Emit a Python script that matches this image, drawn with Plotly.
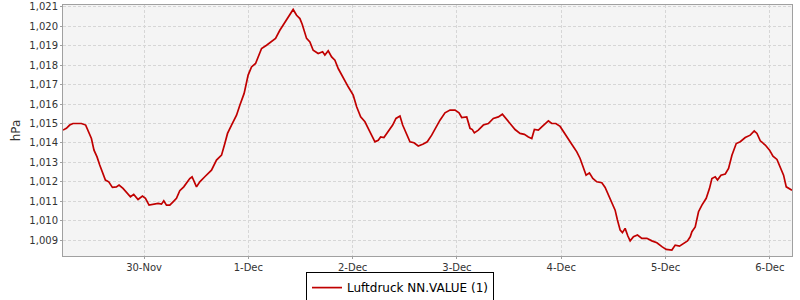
import plotly.graph_objects as go
import pandas as pd

series_name = "Luftdruck NN.VALUE (1)"
start = pd.Timestamp("2023-11-29 00:00")

# hours since 29-Nov 00:00
hours = [5.35, 6.13, 6.89, 7.65, 8.80, 9.58, 10.57, 11.33, 11.89, 12.48, 13.18, 13.80, 14.42, 15.11,
         15.87, 16.72, 17.64, 18.24, 19.16, 19.95, 20.87, 21.63, 22.62, 23.63, 24.32, 25.15, 26.07,
         27.22, 28.01, 28.54, 29.16, 29.92, 30.68, 31.46, 32.22, 33.14, 34.52, 35.05, 36.07, 36.83,
         37.98, 39.52, 40.67, 41.83, 42.59, 43.21, 44.13, 45.28, 46.04, 47.03, 47.95, 48.73, 49.66,
         51.04, 52.19, 53.34, 54.26, 55.25, 56.40, 57.55, 58.31, 59.10, 59.86, 60.39, 61.40, 62.16,
         62.92, 64.07, 65.09, 65.61, 66.38, 67.16, 67.92, 68.68, 69.83, 70.98, 72.13, 72.92, 73.84,
         74.83, 75.98, 77.13, 77.89, 78.44, 79.20, 80.19, 81.21, 81.97, 82.89, 83.51, 84.27, 85.19,
         86.11, 87.10, 88.25, 89.17, 90.19, 91.18, 92.10, 93.25, 94.40, 95.56, 96.48, 97.10, 98.25,
         99.01, 99.54, 100.00, 100.92, 102.07, 103.22, 104.37, 105.53, 106.45, 107.23, 108.22,
         109.37, 110.52, 111.51, 112.44, 113.22, 113.82, 114.74, 115.52, 116.28, 117.04, 117.82,
         118.75, 119.74, 120.50, 121.28, 122.04, 122.80, 123.58, 124.34, 124.96, 125.72, 126.48,
         127.27, 128.19, 129.34, 130.10, 130.86, 131.64, 132.40, 132.93, 133.56, 134.08, 134.70,
         135.33, 135.86, 136.62, 137.54, 138.55, 139.70, 140.85, 142.01, 143.16, 144.15, 145.46,
         146.22, 147.21, 148.13, 149.05, 149.68, 150.07, 150.83, 151.59, 152.37, 153.36, 154.12,
         154.67, 155.43, 155.96, 156.75, 157.74, 158.50, 159.28, 160.27, 161.19, 162.34, 163.49,
         164.41, 165.04, 165.80, 166.95, 167.94, 168.72, 169.64, 170.40, 171.16, 171.78, 172.31,
         173.10]

# pressure in hPa
pressure = [1014.66, 1014.75, 1014.92, 1015.00, 1015.00, 1015.00, 1014.92, 1014.57, 1014.23, 1013.63,
            1013.28, 1012.86, 1012.51, 1012.09, 1012.00, 1011.71, 1011.74, 1011.83, 1011.66, 1011.48,
            1011.23, 1011.35, 1011.09, 1011.26, 1011.15, 1010.80, 1010.85, 1010.89, 1010.85, 1011.02,
            1010.80, 1010.80, 1010.97, 1011.15, 1011.54, 1011.74, 1012.17, 1012.26, 1011.74, 1012.00,
            1012.26, 1012.60, 1013.12, 1013.37, 1013.97, 1014.49, 1014.92, 1015.43, 1015.94, 1016.55,
            1017.49, 1017.91, 1018.09, 1018.86, 1019.03, 1019.20, 1019.38, 1019.80, 1020.23, 1020.66,
            1020.87, 1020.57, 1020.40, 1020.11, 1019.38, 1019.20, 1018.77, 1018.60, 1018.69, 1018.52,
            1018.74, 1018.43, 1018.26, 1017.83, 1017.32, 1016.89, 1016.46, 1015.86, 1015.34, 1015.09,
            1014.57, 1014.06, 1014.14, 1014.31, 1014.28, 1014.57, 1014.92, 1015.26, 1015.38, 1014.92,
            1014.49, 1014.06, 1014.01, 1013.84, 1013.94, 1014.06, 1014.40, 1014.83, 1015.17, 1015.55,
            1015.69, 1015.69, 1015.55, 1015.31, 1015.34, 1014.75, 1014.69, 1014.52, 1014.66, 1014.92,
            1015.00, 1015.26, 1015.34, 1015.48, 1015.26, 1015.00, 1014.69, 1014.49, 1014.44, 1014.31,
            1014.23, 1014.69, 1014.66, 1014.83, 1015.00, 1015.14, 1015.00, 1015.00, 1014.85, 1014.57,
            1014.31, 1014.06, 1013.80, 1013.54, 1013.20, 1012.81, 1012.34, 1012.46, 1012.17, 1012.00,
            1011.95, 1011.71, 1011.31, 1010.89, 1010.54, 1010.03, 1009.51, 1009.38, 1009.60, 1009.21,
            1008.96, 1009.17, 1009.26, 1009.09, 1009.09, 1008.96, 1008.86, 1008.66, 1008.52, 1008.49,
            1008.74, 1008.69, 1008.83, 1008.96, 1009.17, 1009.43, 1009.68, 1010.46, 1010.80, 1011.15,
            1011.66, 1012.17, 1012.26, 1012.09, 1012.34, 1012.40, 1012.69, 1013.37, 1013.97, 1014.06,
            1014.28, 1014.40, 1014.62, 1014.49, 1014.11, 1013.89, 1013.63, 1013.32, 1013.15, 1012.69,
            1012.34, 1011.74, 1011.66, 1011.57]

y_ticks = [1009, 1010, 1011, 1012, 1013, 1014, 1015, 1016, 1017, 1018, 1019, 1020, 1021]
y_range = [1008.18, 1021.1]

times = [start + pd.Timedelta(hours=h) for h in hours]

fig = go.Figure()
fig.add_trace(go.Scatter(
    x=times, y=pressure, mode="lines", name=series_name,
    line=dict(color="#c00000", width=1.7), showlegend=True,
))

font = "DejaVu Sans, Verdana, sans-serif"
fig.update_layout(
    width=800, height=300,
    margin=dict(l=63, r=8, t=5, b=44, autoexpand=False),
    paper_bgcolor="white", plot_bgcolor="#f4f4f4",
    font=dict(family=font, size=10, color="#333333"),
    showlegend=True,
    legend=dict(
        orientation="h", xref="container", yref="container",
        x=0.5, xanchor="center", y=0.093, yanchor="top",
        bordercolor="#000000", borderwidth=1, bgcolor="white",
        font=dict(family=font, size=12, color="#000000"),
        itemwidth=30, tracegroupgap=0,
    ),
)
fig.update_xaxes(
    type="date", range=[times[0], times[-1]],
    tickformat="%-d-%b", dtick=86400000, tick0="2023-11-29",
    showgrid=True, gridcolor="#d6d6d6", griddash="3px,2px", gridwidth=1,
    showline=True, linecolor="#a0a0a0", linewidth=1, mirror=True,
    ticks="outside", ticklen=2, tickcolor="#a0a0a0",
    tickfont=dict(size=10, color="#333333"), zeroline=False,
)
fig.update_yaxes(
    range=y_range, tickvals=y_ticks, tickformat=",d",
    title=dict(text="hPa", font=dict(size=12, color="#333333"), standoff=6),
    showgrid=True, gridcolor="#d6d6d6", griddash="3px,2px", gridwidth=1,
    showline=True, linecolor="#a0a0a0", linewidth=1, mirror=True,
    ticks="outside", ticklen=2, tickcolor="#a0a0a0",
    tickfont=dict(size=10, color="#333333"), zeroline=False,
)

fig.write_html("out.html")
